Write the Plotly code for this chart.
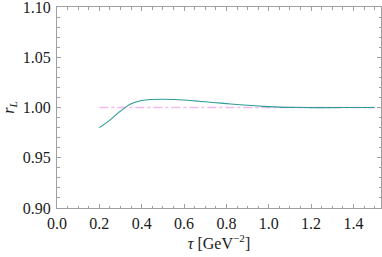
import plotly.graph_objects as go

tau = [0.20, 0.25, 0.30, 0.35, 0.40, 0.45, 0.50, 0.55, 0.60, 0.65, 0.70, 0.75,
       0.80, 0.85, 0.90, 0.95, 1.00, 1.05, 1.10, 1.20, 1.30, 1.40, 1.50]
r_L = [0.9800, 0.9875, 0.9965, 1.0037, 1.0070, 1.0080, 1.0082, 1.0080, 1.0074,
       1.0066, 1.0057, 1.0048, 1.0039, 1.0030, 1.0022, 1.0015, 1.0009, 1.0004,
       1.0001, 0.9999, 0.9999, 1.0000, 1.0000]
ref_tau = [0.2, 1.5]
ref_r = [1.0, 1.0]

x_ticks = [0.0, 0.2, 0.4, 0.6, 0.8, 1.0, 1.2, 1.4]
x_labels = ["0.0", "0.2", "0.4", "0.6", "0.8", "1.0", "1.2", "1.4"]
y_ticks = [0.90, 0.95, 1.00, 1.05, 1.10]
y_labels = ["0.90", "0.95", "1.00", "1.05", "1.10"]

fig = go.Figure()
fig.add_trace(go.Scatter(x=ref_tau, y=ref_r, mode="lines",
                         line=dict(color="#f5b8f0", width=1.5, dash="dashdot"),
                         showlegend=False, hoverinfo="skip"))
fig.add_trace(go.Scatter(x=tau, y=r_L, mode="lines", line_shape="spline",
                         line=dict(color="#2e9c9a", width=1.1),
                         showlegend=False))

font = dict(family="'Liberation Serif', 'Times New Roman', serif", size=16, color="#1a1a1a")
axis_common = dict(showgrid=False, zeroline=False, showline=True, linecolor="#a0a0a0",
                   linewidth=1, mirror="ticks", ticks="inside", ticklen=4,
                   tickcolor="#a0a0a0", tickfont=font, automargin=False,
                   ticklabeloverflow="allow")

fig.update_xaxes(range=[0, 1.53], tickvals=x_ticks, ticktext=x_labels,
                 minor=dict(tickvals=[i * 0.05 for i in range(31)], ticks="inside",
                            ticklen=2.5, tickcolor="#a0a0a0"),
                 title=dict(text="<i>τ</i> [GeV<sup>−2</sup>]", font=font, standoff=3),
                 ticklabelstandoff=1,
                 **axis_common)
fig.update_yaxes(range=[0.90, 1.10], tickvals=y_ticks, ticktext=y_labels,
                 minor=dict(tickvals=[0.90 + i * 0.01 for i in range(21)], ticks="inside",
                            ticklen=2.5, tickcolor="#a0a0a0"),
                 title=dict(text="<i>r<sub>L</sub></i>", font=font, standoff=12),
                 ticklabelstandoff=2,
                 **axis_common)

fig.update_layout(width=382, height=257, margin=dict(l=57, r=1, t=7, b=49),
                  plot_bgcolor="white", paper_bgcolor="white")
fig.write_html("out.html", config={"displayModeBar": False},
               post_script="document.body.style.margin='0';document.body.style.padding='0';")
